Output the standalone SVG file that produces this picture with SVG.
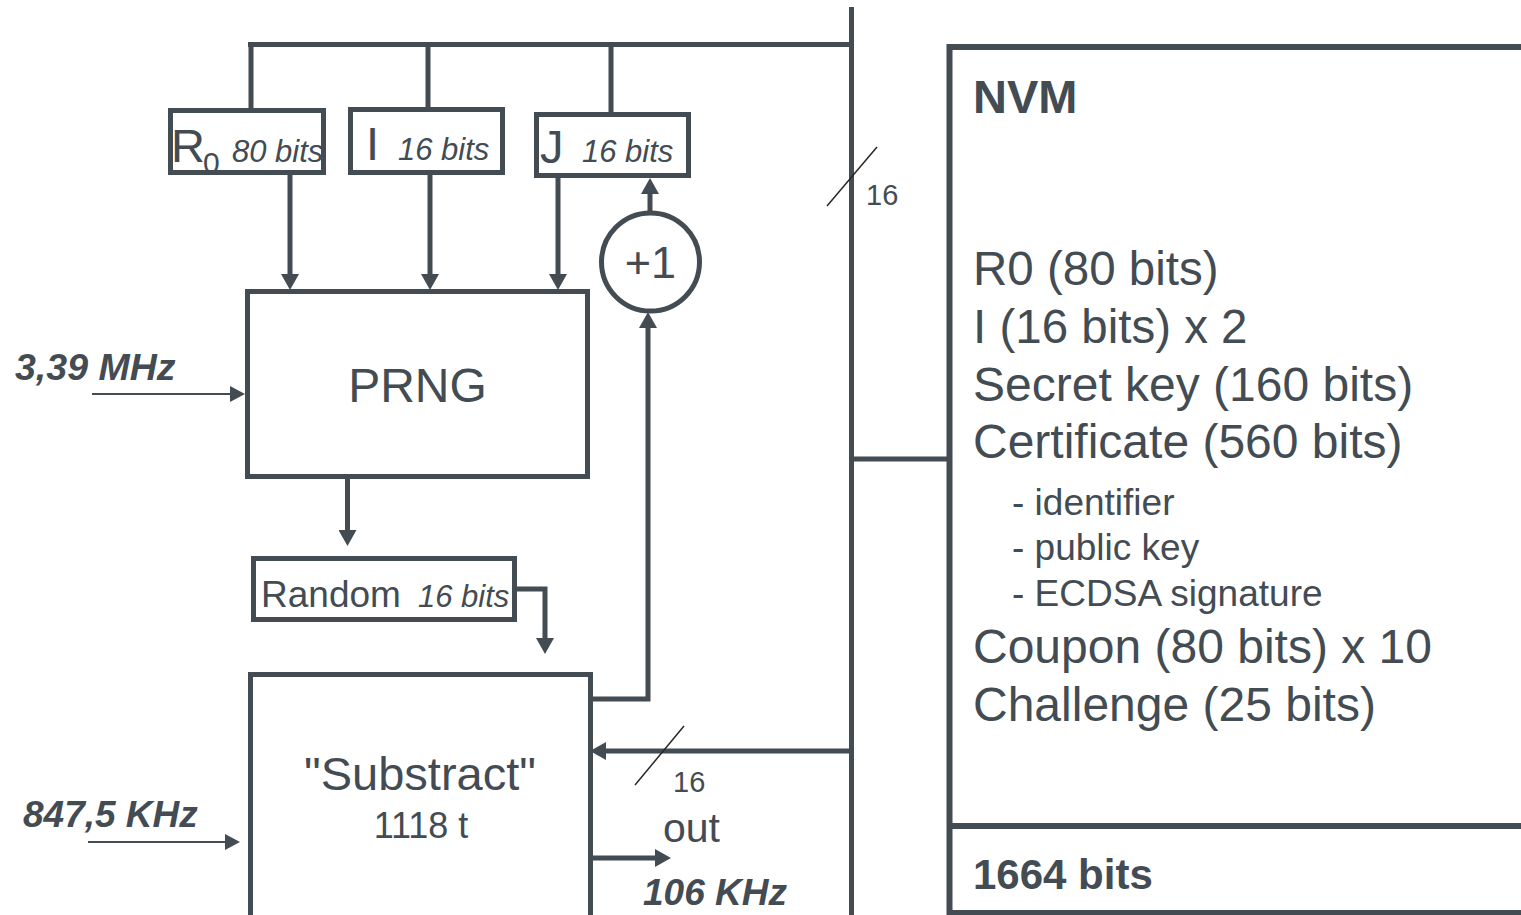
<svg xmlns="http://www.w3.org/2000/svg" width="1521" height="915" viewBox="0 0 1521 915">
<style>
.ln{fill:none;stroke:#434b53;stroke-width:5}
.box{fill:#fff;stroke:#434b53;stroke-width:5}
.thin{fill:none;stroke:#434b53;stroke-width:2}
.sl{stroke:#2b2622;stroke-width:1.5}
text{font-family:"Liberation Sans",Arial,sans-serif;fill:#434b53}
.it{font-style:italic}
.bi{font-style:italic;font-weight:bold}
.b{font-weight:bold}
</style>
<defs>
<marker id="ah" markerUnits="userSpaceOnUse" markerWidth="16" markerHeight="18" refX="0" refY="9" orient="auto" viewBox="0 0 16 18"><path d="M0,0 L16,9 L0,18 z" fill="#434b53"/></marker>
<marker id="as" markerUnits="userSpaceOnUse" markerWidth="15" markerHeight="16" refX="0" refY="8" orient="auto" viewBox="0 0 15 16"><path d="M0,0 L15,8 L0,16 z" fill="#434b53"/></marker>
</defs>
<g id="connectors">
<path class="ln" d="M851.5,7 V915"/>
<path class="ln" d="M248,44.5 H851.5"/>
<path class="ln" d="M251,44.5 V110"/>
<path class="ln" d="M428,44.5 V109"/>
<path class="ln" d="M611,44.5 V114"/>
<path class="ln" d="M290,173 V274" marker-end="url(#ah)"/>
<path class="ln" d="M430,172 V274" marker-end="url(#ah)"/>
<path class="ln" d="M558,176 V274" marker-end="url(#ah)"/>
<path class="ln" d="M650,213 V194" marker-end="url(#ah)"/>
<path class="ln" d="M590.5,699 H648 V328" marker-end="url(#ah)"/>
<path class="ln" d="M347.5,477 V530" marker-end="url(#ah)"/>
<path class="ln" d="M514.5,589 H545 V638" marker-end="url(#ah)"/>
<path class="ln" d="M851.5,751 H606" marker-end="url(#ah)"/>
<path class="ln" d="M590.5,858 H655" marker-end="url(#ah)"/>
<path class="ln" d="M851.5,459 H949"/>
<path class="thin" d="M92,394 H230" marker-end="url(#as)"/>
<path class="thin" d="M88,842 H225" marker-end="url(#as)"/>
<line class="sl" x1="827" y1="206" x2="877" y2="147"/>
<line class="sl" x1="635" y1="785" x2="684" y2="726"/>
<text x="866" y="205" font-size="29">16</text>
<text x="673" y="792" font-size="29">16</text>
<text x="663" y="842" font-size="41">out</text>
<text x="643" y="905" font-size="37" class="bi">106 KHz</text>
<text x="15" y="380" font-size="37.5" class="bi">3,39 MHz</text>
<text x="23" y="827" font-size="37" class="bi">847,5 KHz</text>
</g>
<g id="r0">
<rect class="box" x="170.5" y="110.5" width="153" height="62"/>
<text x="171" y="162" font-size="47">R</text>
<text x="203" y="173" font-size="30">0</text>
<text x="232" y="162" font-size="31" class="it">80 bits</text>
</g>
<g id="i">
<rect class="box" x="350.5" y="109.5" width="152" height="63"/>
<text x="366" y="160" font-size="47">I</text>
<text x="398" y="160" font-size="31" class="it">16 bits</text>
</g>
<g id="j">
<rect class="box" x="536.5" y="114.5" width="152" height="61"/>
<text x="540" y="163" font-size="47">J</text>
<text x="582" y="162" font-size="31" class="it">16 bits</text>
</g>
<g id="plus1">
<circle cx="650.5" cy="262" r="49" class="box"/>
<text x="650.5" y="278" font-size="45" text-anchor="middle">+1</text>
</g>
<g id="prng">
<rect class="box" x="247.5" y="291.5" width="340" height="185"/>
<text x="417.5" y="402" font-size="48" text-anchor="middle">PRNG</text>
</g>
<g id="random">
<rect class="box" x="253.5" y="558.5" width="261" height="61"/>
<text x="261" y="607" font-size="37">Random</text>
<text x="418" y="607" font-size="31" class="it">16 bits</text>
</g>
<g id="substract">
<rect class="box" x="250.5" y="674.5" width="340" height="250"/>
<text x="420" y="790" font-size="47" text-anchor="middle">"Substract"</text>
<text x="421" y="838" font-size="36" text-anchor="middle">1118 t</text>
</g>
<g id="nvm">
<rect x="949.5" y="47" width="600" height="866" fill="#fff" stroke="#434b53" stroke-width="6"/>
<path d="M949.5,826 H1521" stroke="#434b53" stroke-width="6"/>
<text x="973" y="113" font-size="47" class="b">NVM</text>
<text x="973" y="285" font-size="47.5">R0 (80 bits)</text>
<text x="973" y="343" font-size="47.5">I (16 bits) x 2</text>
<text x="973" y="401" font-size="48">Secret key (160 bits)</text>
<text x="973" y="458" font-size="48">Certificate (560 bits)</text>
<text x="1012" y="515" font-size="37">- identifier</text>
<text x="1012" y="560" font-size="37">- public key</text>
<text x="1012" y="606" font-size="37">- ECDSA signature</text>
<text x="973" y="663" font-size="48">Coupon (80 bits) x 10</text>
<text x="973" y="721" font-size="48">Challenge (25 bits)</text>
<text x="973" y="889" font-size="42" class="b">1664 bits</text>
</g>
</svg>
